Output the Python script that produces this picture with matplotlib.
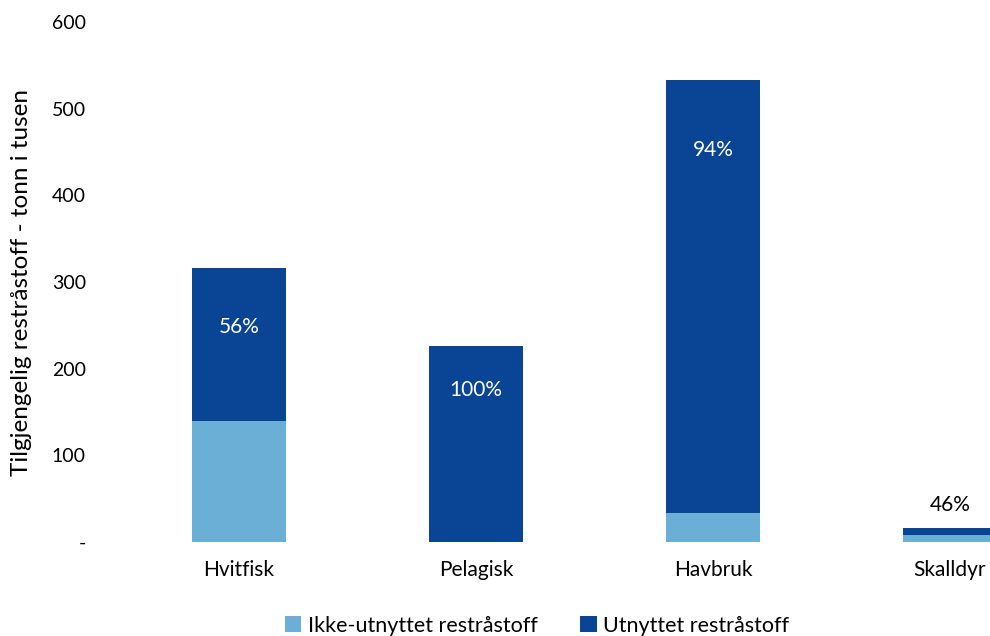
import numpy as np
import matplotlib.pyplot as plt

plt.rcParams['font.family'] = ['Lato', 'DejaVu Sans']

categories = ['Hvitfisk', 'Pelagisk', 'Havbruk', 'Skalldyr']
ikke_utnyttet = [140, 0, 34, 8.6]
utnyttet = [176, 226, 499, 7.4]
share_labels = ['56%', '100%', '94%', '46%']
label_y = [248, 175, 452, 43]
label_colors = ['white', 'white', 'white', 'black']

LIGHT = '#6baed6'
DARK = '#0a4595'

fig = plt.figure(figsize=(9.9, 6.36), dpi=100)
ax = fig.add_axes([120.5 / 990, 94 / 636, 948 / 990, 520 / 636])

x = np.arange(len(categories))
ax.bar(x, ikke_utnyttet, width=0.4, color=LIGHT, label='Ikke-utnyttet restråstoff')
ax.bar(x, utnyttet, width=0.4, bottom=ikke_utnyttet, color=DARK, label='Utnyttet restråstoff')

for xi, txt, ly, c in zip(x, share_labels, label_y, label_colors):
    ax.text(xi, ly, txt, ha='center', va='center', color=c, fontsize=15)

ax.set_xlim(-0.5, 3.5)
ax.set_ylim(0, 600)
ax.set_yticks(range(0, 601, 100))
ax.set_yticklabels(['-'] + [str(v) for v in range(100, 601, 100)])
ax.set_xticks(x)
ax.set_xticklabels(categories)
ax.tick_params(axis='y', length=0, pad=25, labelsize=14)
ax.tick_params(axis='x', length=0, pad=13, labelsize=15)
for s in ax.spines.values():
    s.set_visible(False)

ax.set_ylabel('Tilgjengelig restråstoff - tonn i tusen', fontsize=17.5, labelpad=14)

fig.legend(loc='lower center', bbox_to_anchor=(537 / 990, -0.03), ncol=2,
           frameon=False, fontsize=15.5, handlelength=0.75, handleheight=0.75,
           handletextpad=0.3, columnspacing=2.0)

fig.savefig('out.png', dpi=100)
